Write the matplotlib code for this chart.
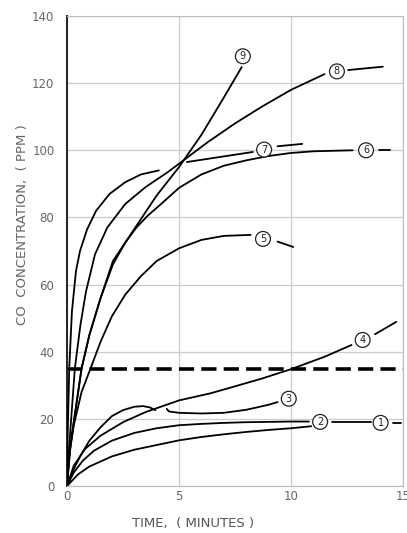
import matplotlib.pyplot as plt

# curves (time in minutes, CO in ppm)
c1_x = [0, 0.5, 1, 2, 3, 4, 5, 6, 7, 8, 9, 10, 10.9]
c1_y = [0, 3.5, 5.8, 8.8, 10.8, 12.2, 13.6, 14.6, 15.4, 16.1, 16.7, 17.2, 17.8]
c1_tail_x = [11.85, 13.55, 14.55, 14.9]
c1_tail_y = [19.0, 19.0, 18.9, 18.9]

c2_x = [0, 0.3, 0.7, 1.2, 2, 3, 4, 5, 6, 7, 8, 9, 10, 10.8]
c2_y = [0, 4, 7.5, 10.5, 13.5, 15.8, 17.2, 18.1, 18.5, 18.8, 19.0, 19.1, 19.2, 19.2]

c3_x = [0, 0.3, 0.6, 1.0, 1.5, 2.0, 2.5, 3.0, 3.4, 3.7, 3.95]
c3_y = [0, 5, 9, 13.5, 17.5, 20.8, 22.6, 23.6, 23.8, 23.4, 22.6]
c3b_x = [4.45, 4.55, 5.0, 6.0, 7.0, 8.0, 9.0, 9.4]
c3b_y = [23.0, 22.2, 21.8, 21.6, 21.8, 22.7, 24.2, 25.0]

c4_x = [0, 0.3, 0.8, 1.5, 2.5, 3.5, 5, 6.4, 7.4, 8.7, 10, 11.5, 12.7]
c4_y = [0, 6, 11, 15, 19, 22, 25.5, 27.6, 29.5, 32, 34.8, 38.5, 42]
c4_tail_x = [13.75, 14.7]
c4_tail_y = [45.2, 48.9]

c5_x = [0, 0.08, 0.3, 0.65, 1.05, 1.5, 2.0, 2.6, 3.3, 4.0, 5.0, 6.0, 7.0, 8.2]
c5_y = [0, 8, 18, 28, 35, 43, 50.5, 57, 62.5, 67, 70.8, 73.3, 74.5, 74.8]
c5_tail_x = [9.4, 10.1]
c5_tail_y = [72.8, 71.2]

c6_x = [0, 0.15, 0.65, 1.0, 1.5, 2.05, 2.6, 3.1, 3.6, 4.2, 5.0, 6.0, 7.0, 8.0, 9.0, 10.0, 11.0, 12.75]
c6_y = [0, 12, 35, 45, 56, 66, 72.5, 77, 80.5, 84, 88.8, 92.8, 95.4, 97.0, 98.3, 99.2, 99.7, 100]
c6_tail_x = [13.95, 14.4]
c6_tail_y = [100, 100]

c7_x = [0, 0.03, 0.1, 0.22, 0.4, 0.58, 0.9, 1.3, 1.9, 2.6, 3.3, 4.1]
c7_y = [0, 15, 35, 52, 64, 70, 76.5, 82, 87, 90.5, 92.8, 94]
c7b_x = [5.35, 8.3]
c7b_y = [96.5, 99.5]
c7_tail_x = [9.4, 10.5]
c7_tail_y = [101.2, 101.9]

c8_x = [0, 0.1, 0.35, 0.6, 0.85, 1.25, 1.8, 2.6, 3.5, 4.5, 5.3, 6.3, 7.5, 8.7, 10, 11.5]
c8_y = [0, 12, 35, 48, 58, 69, 77, 84, 89, 93.5, 97.5, 102.5, 108, 113, 118, 122.7]
c8_tail_x = [12.55, 14.1]
c8_tail_y = [123.9, 124.9]

c9_x = [0, 0.15, 0.65, 1.0, 1.5, 2.05, 2.6, 3.1, 4.0, 5.0, 6.0, 7.0, 7.8]
c9_y = [0, 12, 35, 45, 56, 67, 72.5, 77.5, 86.5, 95.0, 104.6, 115.7, 124.8]

label_txt = ['1', '2', '3', '4', '5', '6', '7', '8', '9']
label_x = [14.0, 11.3, 9.9, 13.2, 8.75, 13.35, 8.8, 12.05, 7.85]
label_y = [18.8, 19.1, 26.0, 43.5, 73.6, 100.0, 100.2, 123.5, 128.0]

limit_level = 35

xticks = [0, 5, 10, 15]
yticks = [0, 20, 40, 60, 80, 100, 120, 140]

fig = plt.figure(figsize=(4.07, 5.33), dpi=100)
ax = fig.add_axes([67 / 407, 47 / 533, 336 / 407, 470 / 533])

segments = [
    (c1_x, c1_y), (c1_tail_x[:2], c1_tail_y[:2]), (c1_tail_x[2:], c1_tail_y[2:]),
    (c2_x, c2_y),
    (c3_x, c3_y), (c3b_x, c3b_y),
    (c4_x, c4_y), (c4_tail_x, c4_tail_y),
    (c5_x, c5_y), (c5_tail_x, c5_tail_y),
    (c6_x, c6_y), (c6_tail_x, c6_tail_y),
    (c7_x, c7_y), (c7b_x, c7b_y), (c7_tail_x, c7_tail_y),
    (c8_x, c8_y), (c8_tail_x, c8_tail_y),
    (c9_x, c9_y),
]
for xs, ys in segments:
    ax.plot(xs, ys, color='black', lw=1.3, solid_capstyle='round', zorder=3)

ax.axhline(limit_level, color='black', lw=2.6, dashes=(4.2, 2.0), zorder=2)

for t, lx, ly in zip(label_txt, label_x, label_y):
    ax.text(lx, ly, t, fontsize=7, ha='center', va='center', color='#222222', zorder=5,
            bbox=dict(boxstyle='circle,pad=0.25', fc='white', ec='#222222', lw=0.9))

ax.set_xlim(0, 15)
ax.set_ylim(0, 140)
ax.set_xticks(xticks)
ax.set_yticks(yticks)
ax.grid(True, color='#cccccc', lw=0.9)
ax.tick_params(length=0, labelsize=8.5, labelcolor='#666666')
ax.tick_params(axis='x', pad=3)
ax.tick_params(axis='y', pad=9)

for side in ['top', 'right', 'bottom']:
    ax.spines[side].set_color('#bbbbbb')
ax.spines['left'].set_color('#222222')
ax.spines['left'].set_linewidth(1.4)

fig.text(23 / 407, (533 - 225) / 533, 'CO  CONCENTRATION,  ( PPM )', rotation=90,
         ha='center', va='center', fontsize=9.5, color='#666666')
fig.text(193 / 407, (533 - 523) / 533, 'TIME,  ( MINUTES )',
         ha='center', va='center', fontsize=9.5, color='#555555')

fig.savefig('out.png', dpi=100)
